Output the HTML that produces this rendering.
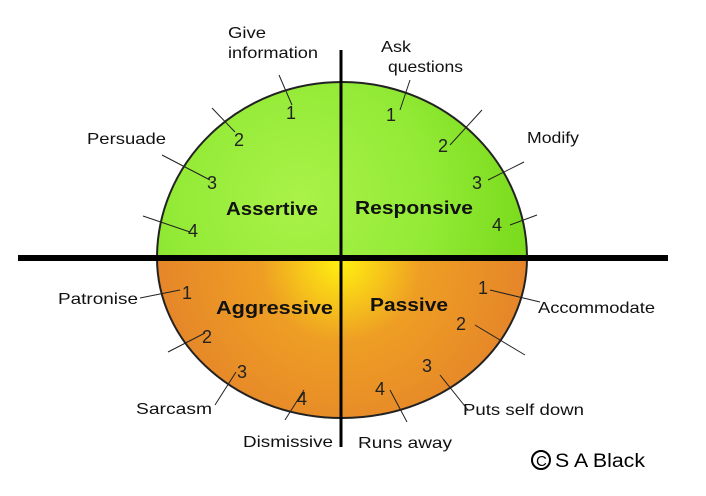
<!DOCTYPE html>
<html><head><style>
body{margin:0;background:#fff;}
svg text{font-family:"Liberation Sans",sans-serif;}
</style></head><body>
<svg width="706" height="491" viewBox="0 0 706 491" xmlns="http://www.w3.org/2000/svg">
<defs>
<radialGradient id="g" cx="300" cy="200" r="220" gradientUnits="userSpaceOnUse">
<stop offset="0" stop-color="#aaf248"/><stop offset="0.6" stop-color="#92ea36"/><stop offset="1" stop-color="#7cdc1e"/>
</radialGradient>
<radialGradient id="o" cx="341" cy="262" r="200" gradientUnits="userSpaceOnUse">
<stop offset="0" stop-color="#fff010"/><stop offset="0.4" stop-color="#ee9e24"/><stop offset="1" stop-color="#e4822a"/>
</radialGradient>
</defs>
<path d="M157,258 A185,176 0 0 1 527,258 Z" fill="url(#g)" stroke="#222" stroke-width="2"/>
<path d="M157,258 A185,160 0 0 0 527,258 Z" fill="url(#o)" stroke="#222" stroke-width="2"/>
<line x1="18" y1="258" x2="668" y2="258" stroke="#000" stroke-width="6"/>
<line x1="341" y1="50" x2="341" y2="447" stroke="#000" stroke-width="3"/>
<g stroke="#222" stroke-width="1" fill="none">
<path d="M279,75 L292,105"/><path d="M212,108 L235,132"/><path d="M162,155 L210,180"/><path d="M143,216 L190,232"/>
<path d="M410,80 L400,110"/><path d="M482,110 L450,145"/><path d="M524,162 L488,180"/><path d="M537,215 L510,225"/>
<path d="M140,298 L180,290"/><path d="M168,352 L205,333"/><path d="M215,405 L236,372"/><path d="M285,420 L304,390"/>
<path d="M490,290 L540,302"/><path d="M475,325 L525,355"/><path d="M440,375 L468,410"/><path d="M390,390 L407,422"/>
</g>
<g font-size="18" fill="#222">
<text x="286" y="119">1</text><text x="234" y="146">2</text><text x="207" y="189">3</text><text x="188" y="237">4</text>
<text x="386" y="121">1</text><text x="438" y="152">2</text><text x="472" y="189">3</text><text x="492" y="231">4</text>
<text x="182" y="299">1</text><text x="202" y="343">2</text><text x="237" y="378">3</text><text x="297" y="405">4</text>
<text x="478" y="294">1</text><text x="456" y="330">2</text><text x="422" y="372">3</text><text x="375" y="395">4</text>
</g>
<g font-size="16" fill="#111" lengthAdjust="spacingAndGlyphs">
<text x="228" y="38" textLength="38" lengthAdjust="spacingAndGlyphs">Give</text>
<text x="228" y="58" textLength="90" lengthAdjust="spacingAndGlyphs">information</text>
<text x="381" y="52" textLength="30" lengthAdjust="spacingAndGlyphs">Ask</text>
<text x="388" y="72" textLength="75" lengthAdjust="spacingAndGlyphs">questions</text>
<text x="87" y="144" textLength="79" lengthAdjust="spacingAndGlyphs">Persuade</text>
<text x="527" y="143" textLength="52" lengthAdjust="spacingAndGlyphs">Modify</text>
<text x="58" y="304" textLength="80" lengthAdjust="spacingAndGlyphs">Patronise</text>
<text x="538" y="313" textLength="117" lengthAdjust="spacingAndGlyphs">Accommodate</text>
<text x="136" y="414" textLength="76" lengthAdjust="spacingAndGlyphs">Sarcasm</text>
<text x="463" y="415" textLength="121" lengthAdjust="spacingAndGlyphs">Puts self down</text>
<text x="243" y="447" textLength="90" lengthAdjust="spacingAndGlyphs">Dismissive</text>
<text x="358" y="448" textLength="94" lengthAdjust="spacingAndGlyphs">Runs away</text>
</g>
<g font-size="18" font-weight="bold" fill="#111">
<text x="226" y="215" textLength="92" lengthAdjust="spacingAndGlyphs">Assertive</text>
<text x="355" y="214" textLength="118" lengthAdjust="spacingAndGlyphs">Responsive</text>
<text x="216" y="314" textLength="117" lengthAdjust="spacingAndGlyphs">Aggressive</text>
<text x="370" y="311" textLength="78" lengthAdjust="spacingAndGlyphs">Passive</text>
</g>
<circle cx="541" cy="460" r="9" fill="none" stroke="#000" stroke-width="2"/>
<text x="536" y="466" font-size="15" fill="#000">C</text>
<text x="555" y="467" font-size="19" fill="#000" textLength="90" lengthAdjust="spacingAndGlyphs">S A Black</text>
</svg>
</body></html>
